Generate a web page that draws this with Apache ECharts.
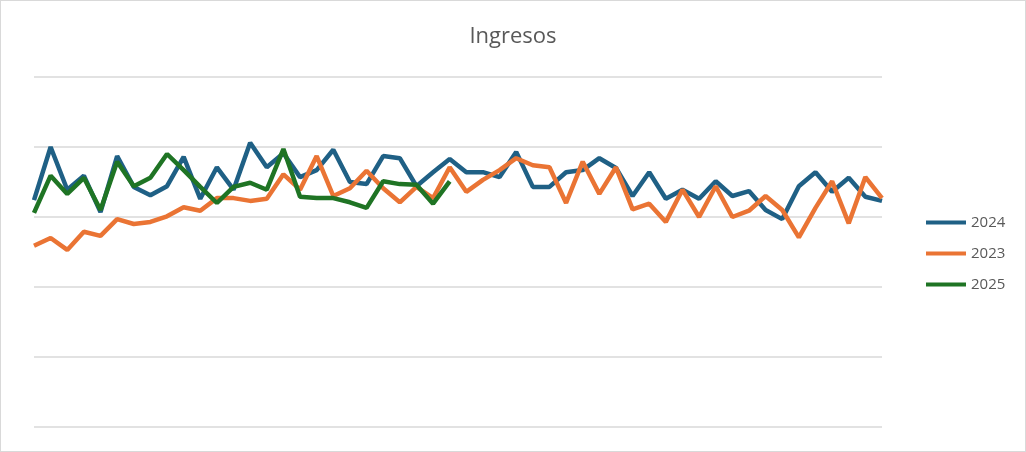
<!DOCTYPE html>
<html lang="es">
<head>
    <meta charset="UTF-8">
    <title>Ingresos</title>
    <script type="text/javascript" src="https://cdn.jsdelivr.net/npm/echarts@6/dist/echarts.min.js"></script>
    <style>
        body { margin: 0; }
        #chart { width: 1024px; height: 450px; border: 1px solid #d9d9d9; }
    </style>
</head>
<body>
<div id="chart"></div>
<script type="text/javascript">
    // semanas 1..52
    var semanas = [];
    for (var i = 1; i <= 52; i++) semanas.push('S' + i);

    var ventas2024 = [32.4,40,33.9,35.9,30.7,38.7,34.3,33.1,34.4,38.6,32.6,37.1,33.9,40.6,37.1,39.1,35.7,36.7,39.6,35,34.7,38.7,38.4,34.4,36.4,38.3,
        36.4,36.4,35.7,39.3,34.3,34.3,36.4,36.7,38.4,37,33,36.4,32.6,33.9,32.6,35.1,33,33.7,31,29.7,34.4,36.4,33.6,35.6,32.9,32.3];
    var ventas2023 = [25.9,27,25.3,27.9,27.3,29.7,29,29.3,30.1,31.4,30.9,32.7,32.7,32.3,32.6,36.1,33.9,38.7,33,34.1,36.6,34.1,32.1,34.3,32.7,37.1,
        33.6,35.3,36.7,38.4,37.4,37.1,32,37.9,33.3,37.1,31.1,31.9,29.3,33.9,30,34.4,30,30.9,33,31,27.1,31.3,35.1,29.1,35.7,32.7];
    var ventas2025 = [30.6,35.9,33.3,35.6,31,37.9,34.4,35.6,39,36.7,34.3,32,34.3,34.9,33.9,39.7,32.9,32.7,32.7,32.1,31.3,35.1,34.7,34.6,31.9,35.1];

    var myChart = echarts.init(document.getElementById('chart'));
    function serie(name, data, color) {
        return { name: name, type: 'line', data: data, symbol: 'none',
                 lineStyle: { width: 4.5, color: color }, itemStyle: { color: color } };
    }
    var option = {
        animation: false,
        title: { text: 'Ingresos', left: 'center', top: 20,
                 textStyle: { fontFamily: 'Open Sans', fontWeight: 'normal', fontSize: 22, color: '#595959' } },
        legend: { orient: 'vertical', left: 920, top: 209, itemGap: 16, itemWidth: 40, itemHeight: 4,
                  icon: 'rect', textStyle: { fontFamily: 'Open Sans', fontSize: 15, color: '#595959' },
                  data: ['2024', '2023', '2025'] },
        grid: { left: 33, right: 143, top: 76, bottom: 24 },
        xAxis: { type: 'category', data: semanas, boundaryGap: false,
                 axisLine: { show: false }, axisTick: { show: false }, axisLabel: { show: false } },
        yAxis: { type: 'value', min: 0, max: 50, interval: 10, axisLabel: { show: false },
                 splitLine: { lineStyle: { color: '#d9d9d9', width: 1.5 } } },
        series: [
            serie('2024', ventas2024, '#1f6085'),
            serie('2023', ventas2023, '#ea7434'),
            serie('2025', ventas2025, '#1f7424')
        ]
    };
    myChart.setOption(option);
</script>
</body>
</html>
